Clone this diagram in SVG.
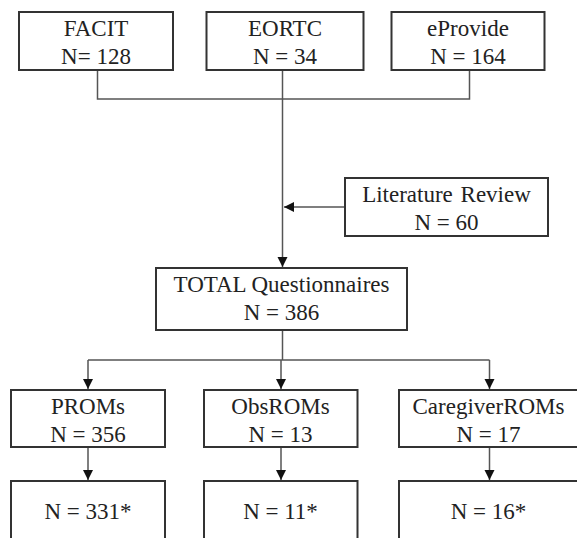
<svg xmlns="http://www.w3.org/2000/svg" width="577" height="538" viewBox="0 0 577 538">
<defs>
<marker id="ah" markerUnits="userSpaceOnUse" markerWidth="12" markerHeight="12" viewBox="0 0 12 12" refX="10" refY="6" orient="auto">
<path d="M0,1 L10,6 L0,11 Z" fill="#111"/>
</marker>
</defs>
<style>
.box{fill:#fff;stroke:#333;stroke-width:2}
.t{font-family:"Liberation Serif","Times New Roman",serif;font-size:23px;fill:#222;text-anchor:middle}
.ln{fill:none;stroke:#555;stroke-width:1.5}
</style>
<rect width="577" height="538" fill="#fff"/>
<g id="connectors">
<path class="ln" d="M97.5,70 V99 H469.5 V70"/>
<path class="ln" d="M282.5,70 V267" marker-end="url(#ah)"/>
<path class="ln" d="M345,207 H284" marker-end="url(#ah)"/>
<path class="ln" d="M282.5,330 V360"/>
<path class="ln" d="M88,360 H489.5"/>
<path class="ln" d="M88,360 V389" marker-end="url(#ah)"/>
<path class="ln" d="M281,360 V389" marker-end="url(#ah)"/>
<path class="ln" d="M489.5,360 V389" marker-end="url(#ah)"/>
<path class="ln" d="M88,447 V480" marker-end="url(#ah)"/>
<path class="ln" d="M281,447 V480" marker-end="url(#ah)"/>
<path class="ln" d="M489.5,447 V480" marker-end="url(#ah)"/>
</g>
<g id="facit"><rect class="box" x="19" y="12" width="154" height="58"/><text class="t" x="96" y="36">FACIT</text><text class="t" x="96" y="64">N= 128</text></g>
<g id="eortc"><rect class="box" x="206.5" y="12" width="157" height="58"/><text class="t" x="285" y="36">EORTC</text><text class="t" x="285" y="64">N = 34</text></g>
<g id="eprovide"><rect class="box" x="391.5" y="12" width="153" height="58"/><text class="t" x="468" y="36">eProvide</text><text class="t" x="468" y="64">N = 164</text></g>
<g id="literature"><rect class="box" x="345" y="178" width="203" height="58"/><text class="t" x="446.5" y="202" word-spacing="2">Literature Review</text><text class="t" x="446.5" y="230">N = 60</text></g>
<g id="total"><rect class="box" x="156" y="268" width="251" height="62"/><text class="t" x="281.5" y="292">TOTAL Questionnaires</text><text class="t" x="281.5" y="320">N = 386</text></g>
<g id="proms"><rect class="box" x="11" y="390" width="154" height="57"/><text class="t" x="88" y="414">PROMs</text><text class="t" x="88" y="442">N = 356</text></g>
<g id="obsroms"><rect class="box" x="204" y="390" width="153.5" height="57"/><text class="t" x="280.5" y="414">ObsROMs</text><text class="t" x="280.5" y="442">N = 13</text></g>
<g id="caregiverroms"><rect class="box" x="399" y="390" width="180" height="57"/><text class="t" x="488.5" y="414">CaregiverROMs</text><text class="t" x="488.5" y="442">N = 17</text></g>
<g id="proms-final"><rect class="box" x="11" y="481" width="154" height="70"/><text class="t" x="88" y="519">N = 331*</text></g>
<g id="obsroms-final"><rect class="box" x="204" y="481" width="153.5" height="70"/><text class="t" x="280.5" y="519">N = 11*</text></g>
<g id="caregiverroms-final"><rect class="box" x="399" y="481" width="180" height="70"/><text class="t" x="488.5" y="519">N = 16*</text></g>
</svg>
